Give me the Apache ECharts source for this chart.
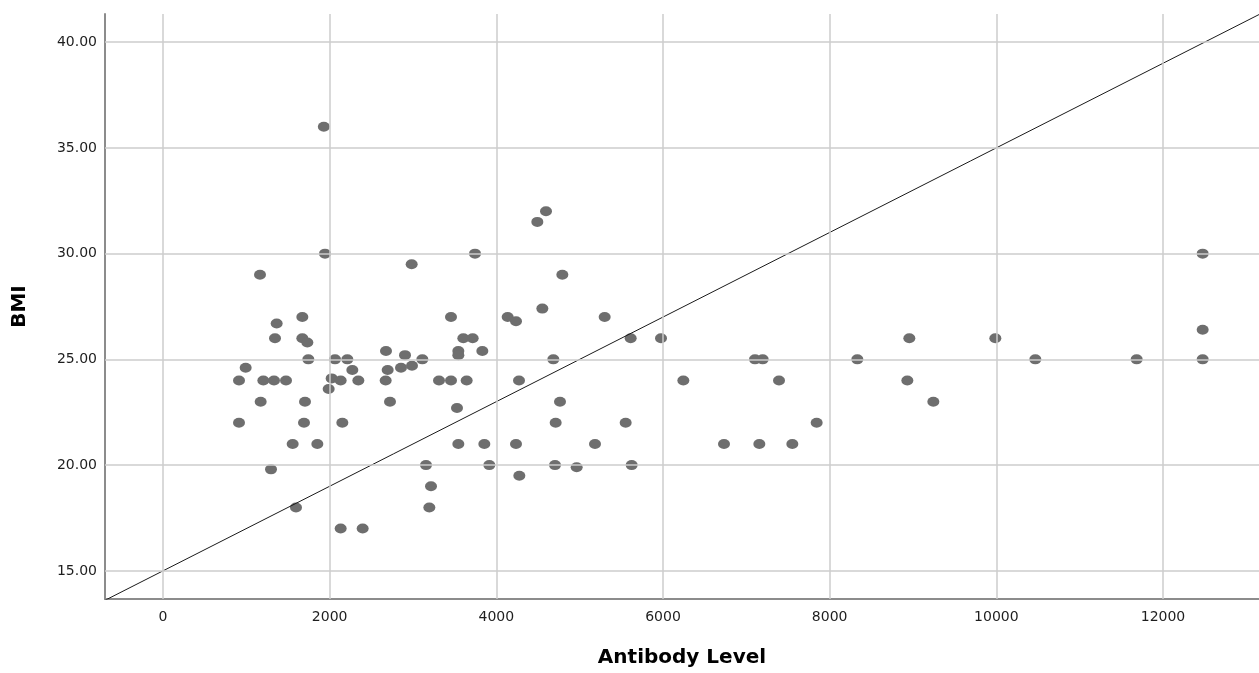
<!DOCTYPE html>
<html>
<head>
<meta charset="utf-8">
<script src="https://cdn.jsdelivr.net/npm/echarts@6/dist/echarts.min.js"></script>
<style>
html,body{margin:0;padding:0;background:#fff;overflow:hidden;}
#chart{width:1259px;height:673px;}
</style>
</head>
<body>
<div id="chart"></div>
<script>
// Antibody Level (x) and BMI (y) pairs
const antibody = [
  1930, 1944, 1164, 2984, 3744, 1672, 3456,
  1364, 1344, 1672, 1732, 3604, 3716, 2676, 3544, 3544, 2904, 3832,
  1744, 2064, 2212, 3112, 992, 2272, 2696, 2856, 2988,
  912, 1204, 1332, 1476, 2024, 2132, 2344, 2672, 3312, 3456, 3644,
  1988, 1172, 1704, 2724, 3528, 912, 1692, 2152,
  1556, 1852, 3544, 3856, 1296, 3156, 3916, 3216, 1596, 3196, 2132, 2396,
  4596, 4492, 4792, 4552, 4136, 4236, 5300, 5612, 5976,
  4684, 7104, 7196, 8332, 4272, 6244, 7392, 4764, 4712, 5552, 7844,
  4236, 5184, 6732, 7156, 7552, 4704, 4964, 5624, 4276,
  12476, 8956, 9988, 12476, 10468, 11684, 12476, 8932, 9244
];
const bmi = [
  36, 30, 29, 29.5, 30, 27, 27,
  26.7, 26, 26, 25.8, 26, 26, 25.4, 25.4, 25.2, 25.2, 25.4,
  25, 25, 25, 25, 24.6, 24.5, 24.5, 24.6, 24.7,
  24, 24, 24, 24, 24.1, 24, 24, 24, 24, 24, 24,
  23.6, 23, 23, 23, 22.7, 22, 22, 22,
  21, 21, 21, 21, 19.8, 20, 20, 19, 18, 18, 17, 17,
  32, 31.5, 29, 27.4, 27, 26.8, 27, 26, 26,
  25, 25, 25, 25, 24, 24, 24, 23, 22, 22, 22,
  21, 21, 21, 21, 21, 20, 19.9, 20, 19.5,
  30, 26, 26, 26.4, 25, 25, 25, 24, 23
];
// Reference line endpoints (x, y)
const refLineX = [-696, 13152];
const refLineY = [13.608, 41.304];
// Axis ranges / ticks
const xRange = [-696, 13152];
const yRange = [13.67, 41.33];
const xTicks = [0, 2000, 4000, 6000, 8000, 10000, 12000];
const yTicks = [15, 20, 25, 30, 35, 40];

const points = antibody.map((x, i) => [x, bmi[i]]);
const refLine = refLineX.map((x, i) => [x, refLineY[i]]);

const chart = echarts.init(document.getElementById('chart'));
const tickFont = 'DejaVu Sans, sans-serif';
const titleFont = 'DejaVu Sans, sans-serif';
chart.setOption({
  animation: false,
  backgroundColor: '#ffffff',
  grid: {left: 105, width: 1154, top: 14, height: 590, containLabel: false},
  xAxis: {
    type: 'value',
    min: xRange[0], max: xRange[1],
    name: 'Antibody Level',
    nameLocation: 'middle',
    nameGap: 49,
    nameTextStyle: {fontFamily: titleFont, fontSize: 20, fontWeight: 'bold', color: '#000'},
    axisLine: {show: true, onZero: false, lineStyle: {color: '#8c8c8c', width: 2}},
    axisTick: {show: false},
    axisLabel: {
      fontFamily: tickFont, fontSize: 14, color: '#1e1e1e', margin: 11,
      customValues: xTicks,
      formatter: v => String(v)
    },
    splitLine: {show: false}
  },
  yAxis: {
    type: 'value',
    min: yRange[0], max: yRange[1],
    name: 'BMI',
    nameLocation: 'middle',
    nameGap: 75,
    nameRotate: 90,
    nameTextStyle: {fontFamily: titleFont, fontSize: 20, fontWeight: 'bold', color: '#000'},
    axisLine: {show: true, onZero: false, lineStyle: {color: '#8c8c8c', width: 2}},
    axisTick: {show: false},
    axisLabel: {
      fontFamily: tickFont, fontSize: 14, color: '#1e1e1e', margin: 8,
      customValues: yTicks,
      formatter: v => v.toFixed(2)
    },
    splitLine: {show: false}
  },
  series: [
    {
      type: 'line',
      data: xTicks.map(v => [v, yRange[0]]),
      silent: true, symbol: 'none', lineStyle: {opacity: 0},
      markLine: {
        silent: true, symbol: 'none', label: {show: false},
        lineStyle: {color: '#cccccc', width: 1.5, type: 'solid'},
        data: xTicks.map(v => ({xAxis: v})).concat(yTicks.map(v => ({yAxis: v})))
      },
      z: 1
    },
    {
      type: 'scatter',
      data: points,
      symbol: 'circle',
      symbolSize: [12, 10],
      itemStyle: {color: '#6e6e6e', opacity: 1},
      z: 3
    },
    {
      type: 'line',
      data: refLine,
      symbol: 'none',
      lineStyle: {color: '#1a1a1a', width: 1},
      z: 4
    }
  ]
});
</script>
</body>
</html>
